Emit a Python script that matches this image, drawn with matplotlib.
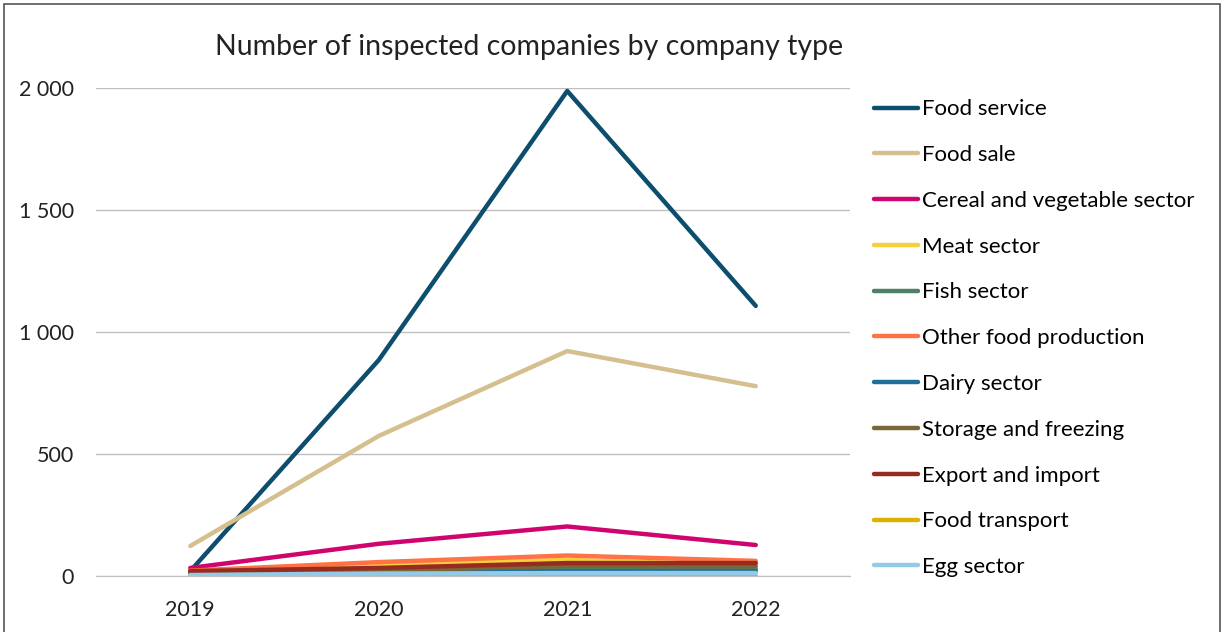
import matplotlib.pyplot as plt
from matplotlib.patches import Rectangle
from matplotlib.ticker import FuncFormatter

plt.rcParams['font.family'] = ['Lato', 'DejaVu Sans']

years = ['2019', '2020', '2021', '2022']

food_service = [20, 885, 1988, 1107]
food_sale = [123, 574, 922, 778]
cereal_vegetable = [33, 132, 203, 127]
meat = [15, 49, 66, 45]
fish = [10, 16, 29, 29]
other_food = [22, 57, 84, 62]
dairy = [8, 14, 20, 20]
storage_freezing = [12, 22, 41, 40]
export_import = [20, 33, 53, 53]
food_transport = [2, 0, 2, 0]
egg = [4, 10, 12, 12]

series = [
    ('Food service', food_service, '#0D4E6E'),
    ('Food sale', food_sale, '#D5BF8E'),
    ('Cereal and vegetable sector', cereal_vegetable, '#D0046F'),
    ('Meat sector', meat, '#F6CF3F'),
    ('Fish sector', fish, '#4F7F64'),
    ('Other food production', other_food, '#FF7245'),
    ('Dairy sector', dairy, '#1F6F9D'),
    ('Storage and freezing', storage_freezing, '#7A6636'),
    ('Export and import', export_import, '#982B20'),
    ('Food transport', food_transport, '#DDB000'),
    ('Egg sector', egg, '#93CAE8'),
]

fig = plt.figure(figsize=(12.24, 6.32), dpi=100)
ax = fig.add_axes([96 / 1224, 1 - 576 / 632, (850 - 96) / 1224, (576 - 88) / 632])

x = range(len(years))
for name, vals, color in series:
    ax.plot(x, vals, color=color, lw=3.2, label=name, solid_capstyle='round')

ax.set_xlim(-0.5, 3.5)
ax.set_ylim(0, 2000)
ax.set_yticks([0, 500, 1000, 1500, 2000])
ax.yaxis.set_major_formatter(FuncFormatter(lambda v, p: f'{int(v):,}'.replace(',', ' ')))
ax.set_xticks(list(x))
ax.set_xticklabels(years)
ax.grid(axis='y', color='#BFBFBF', lw=1)
ax.set_axisbelow(True)
for s in ['top', 'right', 'left']:
    ax.spines[s].set_visible(False)
ax.spines['bottom'].set_color('#BFBFBF')
ax.tick_params(length=0, labelsize=15.5, colors='#222222')
ax.tick_params(axis='x', pad=17)
ax.tick_params(axis='y', pad=16)

fig.text(0.432, 1 - 47 / 632, 'Number of inspected companies by company type',
         ha='center', va='center', fontsize=20.5, color='#222222')

ax.legend(loc='upper left', bbox_to_anchor=(1.02, 0.995), frameon=False,
          fontsize=16, handlelength=2.0, handletextpad=0.18, labelspacing=1.16,
          borderaxespad=0)

fig.patches.append(Rectangle((4 / 1224, -0.01), 1216 / 1224, 1 - 4 / 632 + 0.01,
                             transform=fig.transFigure, fill=False,
                             edgecolor='#555555', lw=1.2))

fig.savefig('out.png', dpi=100)
